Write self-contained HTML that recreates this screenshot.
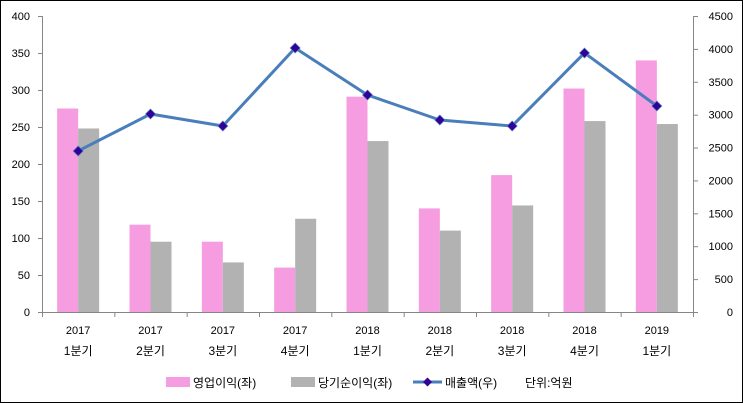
<!DOCTYPE html>
<html><head><meta charset="utf-8"><style>
body{margin:0;background:#fff}
svg{display:block;font-family:"Liberation Sans","Noto Sans CJK KR",sans-serif}
</style></head><body>
<svg width="743" height="403" viewBox="0 0 743 403">
<rect x="0.5" y="0.5" width="742" height="402" fill="#fff" stroke="#000" stroke-width="1"/>
<g id="bars"></g>
<g stroke="#868686" stroke-width="1" fill="none">
<line x1="42.5" y1="16" x2="42.5" y2="312"/>
<line x1="693.5" y1="16" x2="693.5" y2="312"/>
<line x1="38" y1="312.5" x2="697" y2="312.5"/>
</g>
<g id="t" stroke="#868686"></g>
<g id="lab" font-size="11" fill="#000"></g>
<polyline id="ln" fill="none" stroke="#4a7ebb" stroke-width="3" stroke-linejoin="round"/>
<g id="mk" fill="#330099" stroke="#4a7ebb" stroke-width="0.7"></g>
<g font-size="12" fill="#000">
<rect x="166" y="377" width="24" height="10" fill="#f59de0"/>
<text x="193" y="387">영업이익(좌)</text>
<rect x="291" y="377" width="24" height="10" fill="#b2b2b2"/>
<text x="318" y="387">당기순이익(좌)</text>
<line x1="413" y1="382" x2="442" y2="382" stroke="#4a7ebb" stroke-width="3"/>
<polygon points="427.5,377.5 432,382 427.5,386.5 423,382" fill="#330099"/>
<text x="445" y="387">매출액(우)</text>
<text x="525" y="387">단위:억원</text>
</g>
</svg>
<script>
const ns="http://www.w3.org/2000/svg";
function el(p,t,a,txt){const e=document.createElementNS(ns,t);for(const k in a)e.setAttribute(k,a[k]);if(txt!=null)e.textContent=txt;document.getElementById(p).appendChild(e);return e;}
const pink=[275,118,95,60,291,140,185,302,340],gray=[248,95,67,126,231,110,144,258,254];
const rev=[2448,3010,2828,4014,3299,2919,2828,3938,3132];
const L=42,R=693,w=(R-L)/9,y0=312,k=296/400,k2=296/4500;
const yrs=["2017","2017","2017","2017","2018","2018","2018","2018","2019"];
const qs=["1분기","2분기","3분기","4분기","1분기","2분기","3분기","4분기","1분기"];
let pts=[];
for(let i=0;i<9;i++){const c=L+w*(i+0.5);
el("bars","rect",{x:c-21,y:y0-pink[i]*k,width:21,height:pink[i]*k,fill:"#f59de0"});
el("bars","rect",{x:c,y:y0-gray[i]*k,width:21,height:gray[i]*k,fill:"#b2b2b2"});
el("lab","text",{x:c,y:334,"text-anchor":"middle"},yrs[i]);
el("lab","text",{x:c,y:355,"text-anchor":"middle","font-size":"12"},qs[i]);
const py=y0-rev[i]*k2;pts.push(c+","+py);
el("mk","polygon",{points:`${c},${py-5} ${c+5},${py} ${c},${py+5} ${c-5},${py}`});
}
for(let i=0;i<=9;i++){const x=L+w*i+0.5;el("t","line",{x1:x,y1:312,x2:x,y2:317});}
document.getElementById("ln").setAttribute("points",pts.join(" "));
for(let v=0;v<=400;v+=50){const y=y0-v*k;el("t","line",{x1:38,y1:y+0.5,x2:42,y2:y+0.5});
el("lab","text",{x:30,y:y+4,"text-anchor":"end"},v);}
for(let v=0;v<=4500;v+=500){const y=y0-v*k2;el("t","line",{x1:693,y1:y+0.5,x2:698,y2:y+0.5});
el("lab","text",{x:733,y:y+4,"text-anchor":"end"},v);}
</script>
</body></html>
